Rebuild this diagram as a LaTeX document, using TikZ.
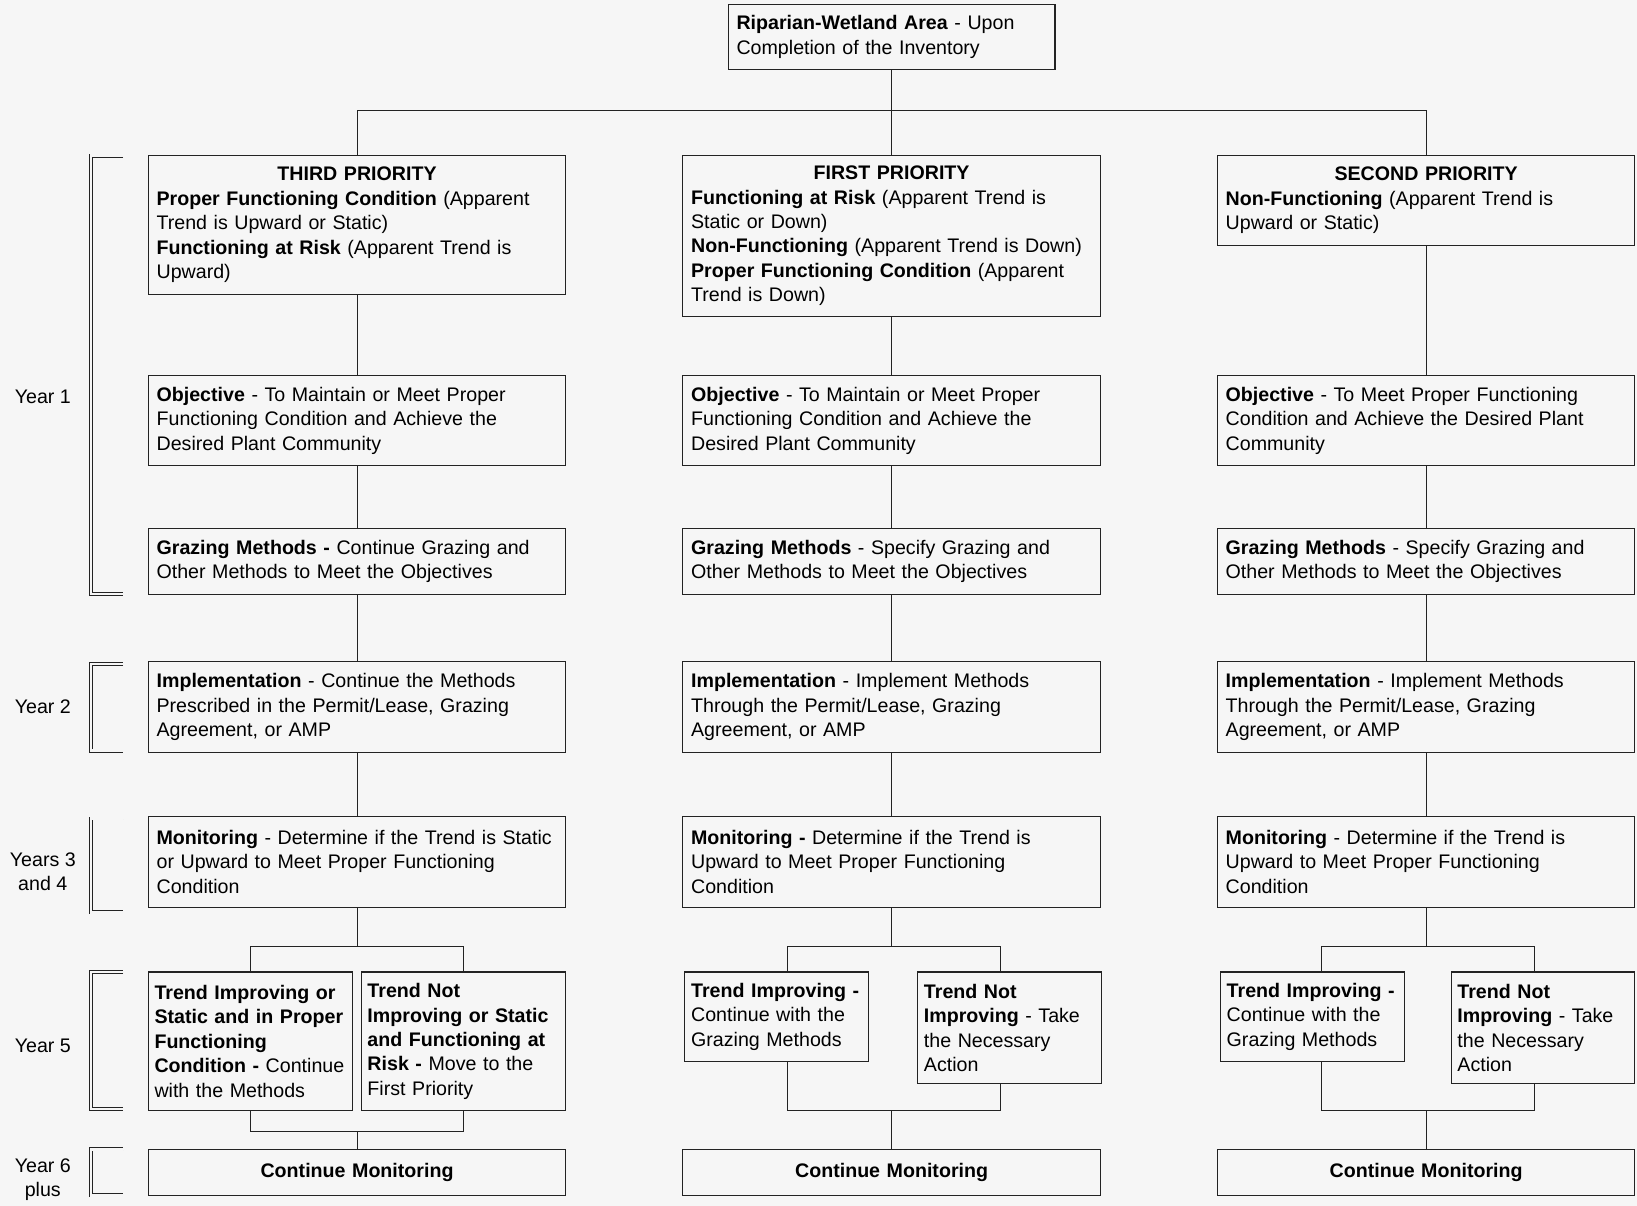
\documentclass[tikz,border=0pt]{standalone}
\usepackage{fontspec}
\setmainfont{Liberation Sans}
\usepackage{tikz}

\definecolor{bg}{RGB}{246,246,246}
\definecolor{ink}{RGB}{35,35,35}

\begin{document}
\begin{tikzpicture}[x=0.5pt, y=-0.5pt,
  every node/.style={font=\fontsize{9.4}{11.7}\selectfont, outer sep=0pt},
  box/.style={draw=ink, line width=0.5pt, align=left, inner xsep=4pt, inner ysep=2pt, text width=192pt},
  small/.style={box, inner xsep=3pt, text width=82pt},
  year/.style={align=center},
  link/.style={draw=ink, line width=0.5pt},
  bracket/.style={draw=ink, line width=0.4pt, double=bg, double distance=1.1pt}]
\fill[bg] (0,0) rectangle (1568,1155);
\useasboundingbox (0,0) rectangle (1568,1155);

\node[box, text width=148.5pt, minimum height=31.5pt] (top) at (854,35.5) {\textbf{Riparian-Wetland Area} - Upon\\Completion of the Inventory};

\node[box, minimum height=66.5pt] (L1) at (342,215.5) {\makebox[\hsize]{\textbf{THIRD PRIORITY}}\\
\textbf{Proper Functioning Condition} (Apparent\\Trend is Upward or Static)\\
\textbf{Functioning at Risk} (Apparent Trend is\\Upward)};
\node[box, minimum height=43pt] (L2) at (342,403) {\textbf{Objective} - To Maintain or Meet Proper\\Functioning Condition and Achieve the\\Desired Plant Community};
\node[box, minimum height=31.5pt] (L3) at (342,537.5) {\textbf{Grazing Methods -} Continue Grazing and\\Other Methods to Meet the Objectives};
\node[box, minimum height=43.5pt] (L4) at (342,677.5) {\textbf{Implementation} - Continue the Methods\\Prescribed in the Permit/Lease, Grazing\\Agreement, or AMP};
\node[box, minimum height=43.5pt] (L5) at (342,825.5) {\textbf{Monitoring} - Determine if the Trend is Static\\or Upward to Meet Proper Functioning\\Condition};
\node[small, text width=92pt, minimum height=66.5pt] (L6a) at (240,997.5) {\textbf{Trend Improving or}\\\textbf{Static and in Proper}\\\textbf{Functioning}\\\textbf{Condition -} Continue\\with the Methods};
\node[small, text width=92pt, minimum height=66.5pt] (L6b) at (444,997.5) {\textbf{Trend Not}\\\textbf{Improving or Static}\\\textbf{and Functioning at}\\\textbf{Risk -} Move to the\\First Priority};
\node[box, align=center, minimum height=22pt] (L7) at (342,1123) {\textbf{Continue Monitoring}};

\node[box, minimum height=77pt] (M1) at (854,226) {\makebox[\hsize]{\textbf{FIRST PRIORITY}}\\
\textbf{Functioning at Risk} (Apparent Trend is\\Static or Down)\\
\textbf{Non-Functioning} (Apparent Trend is Down)\\
\textbf{Proper Functioning Condition} (Apparent\\Trend is Down)};
\node[box, minimum height=43pt] (M2) at (854,403) {\textbf{Objective} - To Maintain or Meet Proper\\Functioning Condition and Achieve the\\Desired Plant Community};
\node[box, minimum height=31.5pt] (M3) at (854,537.5) {\textbf{Grazing Methods} - Specify Grazing and\\Other Methods to Meet the Objectives};
\node[box, minimum height=43.5pt] (M4) at (854,677.5) {\textbf{Implementation} - Implement Methods\\Through the Permit/Lease, Grazing\\Agreement, or AMP};
\node[box, minimum height=43.5pt] (M5) at (854,825.5) {\textbf{Monitoring -} Determine if the Trend is\\Upward to Meet Proper Functioning\\Condition};
\node[small, minimum height=43pt] (M6a) at (744,974) {\textbf{Trend Improving -}\\Continue with the\\Grazing Methods};
\node[small, minimum height=53.5pt] (M6b) at (967,984.5) {\textbf{Trend Not}\\\textbf{Improving} - Take\\the Necessary\\Action};
\node[box, align=center, minimum height=22pt] (M7) at (854,1123) {\textbf{Continue Monitoring}};

\node[box, minimum height=43pt] (R1) at (1366,192) {\makebox[\hsize]{\textbf{SECOND PRIORITY}}\\
\textbf{Non-Functioning} (Apparent Trend is\\Upward or Static)};
\node[box, minimum height=43pt] (R2) at (1366,403) {\textbf{Objective} - To Meet Proper Functioning\\Condition and Achieve the Desired Plant\\Community};
\node[box, minimum height=31.5pt] (R3) at (1366,537.5) {\textbf{Grazing Methods} - Specify Grazing and\\Other Methods to Meet the Objectives};
\node[box, minimum height=43.5pt] (R4) at (1366,677.5) {\textbf{Implementation} - Implement Methods\\Through the Permit/Lease, Grazing\\Agreement, or AMP};
\node[box, minimum height=43.5pt] (R5) at (1366,825.5) {\textbf{Monitoring} - Determine if the Trend is\\Upward to Meet Proper Functioning\\Condition};
\node[small, minimum height=43pt] (R6a) at (1257,974) {\textbf{Trend Improving -}\\Continue with the\\Grazing Methods};
\node[small, minimum height=53.5pt] (R6b) at (1478,984.5) {\textbf{Trend Not}\\\textbf{Improving} - Take\\the Necessary\\Action};
\node[box, align=center, minimum height=22pt] (R7) at (1366,1123) {\textbf{Continue Monitoring}};

\node[year] (y1) at (41,380) {Year 1};
\node[year] (y2) at (41,677) {Year 2};
\node[year] (y34) at (41,835) {Years 3\\and 4};
\node[year] (y5) at (41,1002) {Year 5};
\node[year] (y6) at (41,1130) {Year 6\\plus};

\draw[bracket] (118,149) -| (87,569) -- (118,569);
\draw[bracket] (118,636) -| (87,719) -- (118,719);
\draw[bracket] (118,784) -| (87,874) -- (118,874);
\draw[bracket] (118,931) -| (87,1062) -- (118,1062);
\draw[bracket] (118,1101) -| (87,1145) -- (118,1145);

\draw[link] (top) -- (M1);
\draw[link] (L1.north) -- ++(0,-43) -| (R1.north);

\draw[link] (L1) -- (L2);
\draw[link] (L2) -- (L3);
\draw[link] (L3) -- (L4);
\draw[link] (L4) -- (L5);
\draw[link] (L5.south) -- ++(0,38) coordinate (Ls);
\draw[link] (L6a.north) |- (Ls) -| (L6b.north);
\draw[link] (L7.north) -- ++(0,-17) coordinate (Lj);
\draw[link] (L6a.south) |- (Lj) -| (L6b.south);

\draw[link] (M1) -- (M2);
\draw[link] (M2) -- (M3);
\draw[link] (M3) -- (M4);
\draw[link] (M4) -- (M5);
\draw[link] (M5.south) -- ++(0,38) coordinate (Ms);
\draw[link] ([xshift=5pt]M6a.north) |- (Ms) -| ([xshift=-4.5pt]M6b.north);
\draw[link] (M7.north) -- ++(0,-37) coordinate (Mj);
\draw[link] ([xshift=5pt]M6a.south) |- (Mj) -| ([xshift=-4.5pt]M6b.south);

\draw[link] (R1) -- (R2);
\draw[link] (R2) -- (R3);
\draw[link] (R3) -- (R4);
\draw[link] (R4) -- (R5);
\draw[link] (R5.south) -- ++(0,38) coordinate (Rs);
\draw[link] ([xshift=4.5pt]R6a.north) |- (Rs) -| ([xshift=-4pt]R6b.north);
\draw[link] (R7.north) -- ++(0,-37) coordinate (Rj);
\draw[link] ([xshift=4.5pt]R6a.south) |- (Rj) -| ([xshift=-4pt]R6b.south);
\end{tikzpicture}
\end{document}
